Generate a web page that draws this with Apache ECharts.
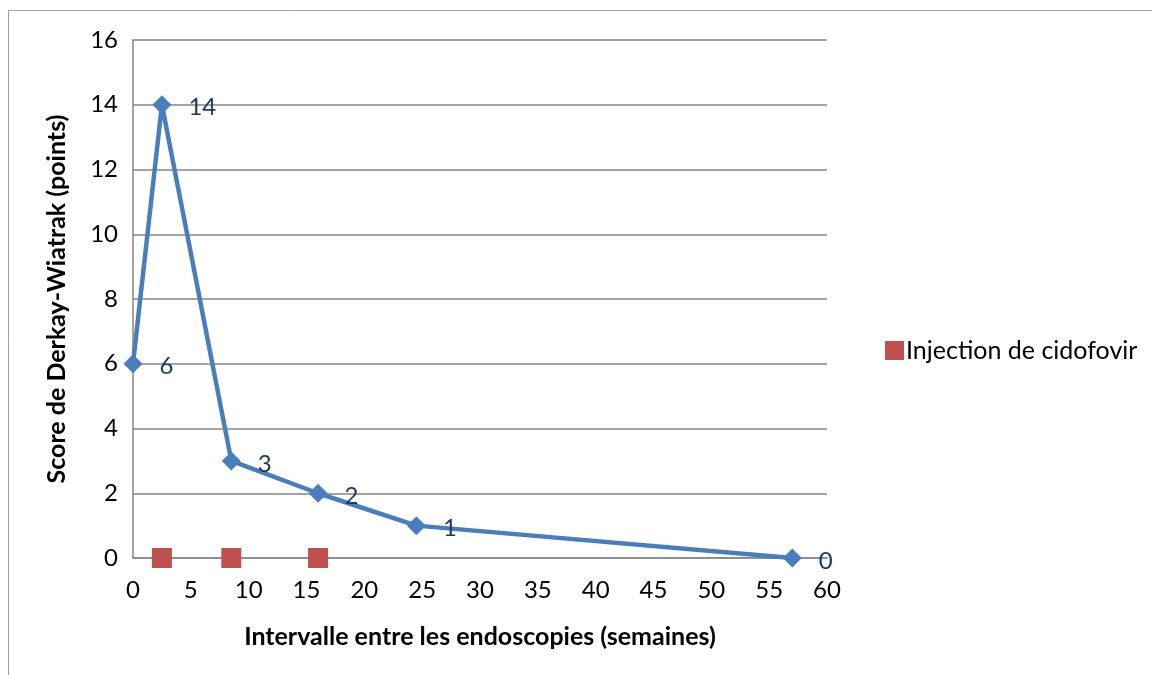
<!DOCTYPE html>
<html><head><meta charset="utf-8">
<script src="https://cdn.jsdelivr.net/npm/echarts@6/dist/echarts.min.js"></script>
<style>html,body{margin:0;padding:0;background:#fff}#c{width:1152px;height:675px}</style>
</head><body><div id="c"></div>
<script>
const scoreWeeks = [0, 2.5, 8.5, 16, 24.5, 57];
const scoreValues = [6, 14, 3, 2, 1, 0];
const injectionWeeks = [2.5, 8.5, 16];
const injectionValues = [0, 0, 0];
const injectionName = 'Injection de cidofovir';
const xTitle = 'Intervalle entre les endoscopies (semaines)';
const yTitle = 'Score de Derkay-Wiatrak (points)';

const FONT = 'Lato';
const chart = echarts.init(document.getElementById('c'), null, {renderer: 'canvas'});
chart.setOption({
  animation: false,
  textStyle: {fontFamily: FONT},
  graphic: [{type: 'rect', shape: {x: 8.5, y: 10.5, width: 1200, height: 700}, style: {fill: 'none', stroke: '#a0a0a0', lineWidth: 1}}],
  grid: {left: 133, right: 325, top: 40, bottom: 117},
  legend: {
    data: [injectionName], left: 880, top: 333, itemWidth: 19, itemHeight: 19, icon: 'rect', itemGap: 6,
    textStyle: {fontFamily: FONT, fontSize: 25, color: '#000', padding: [0,0,0,-3]}
  },
  xAxis: {
    type: 'value', min: 0, max: 60, interval: 5,
    name: xTitle, nameLocation: 'middle', nameGap: 66,
    nameTextStyle: {fontFamily: FONT, fontSize: 25, fontWeight: 'bold', color: '#000'},
    axisLine: {lineStyle: {color: '#868686', width: 1.5}},
    axisTick: {show: false},
    splitLine: {show: false},
    axisLabel: {fontFamily: FONT, fontSize: 24, color: '#000', margin: 20}
  },
  yAxis: {
    type: 'value', min: 0, max: 16, interval: 2,
    name: yTitle, nameLocation: 'middle', nameGap: 64,
    nameTextStyle: {fontFamily: FONT, fontSize: 25, fontWeight: 'bold', color: '#000'},
    axisLine: {show: true, lineStyle: {color: '#868686', width: 1.5}},
    axisTick: {show: false},
    splitLine: {lineStyle: {color: '#868686', width: 1.5}},
    axisLabel: {fontFamily: FONT, fontSize: 24, color: '#000', margin: 15}
  },
  series: [
    {
      name: 'Score', type: 'line',
      data: scoreWeeks.map((w, i) => [w, scoreValues[i]]),
      lineStyle: {color: '#4A7EBB', width: 4.5},
      itemStyle: {color: '#4A7EBB'},
      symbol: 'diamond', symbolSize: 19, showAllSymbol: true,
      label: {show: true, position: 'right', distance: 17, fontFamily: FONT, fontSize: 24, color: '#1F3A60', offset: [0, 3]},
      z: 3
    },
    {
      name: injectionName, type: 'scatter',
      data: injectionWeeks.map((w, i) => [w, injectionValues[i]]),
      symbol: 'rect', symbolSize: 20,
      itemStyle: {color: '#C0504D', opacity: 1},
      z: 4
    }
  ]
});
</script></body></html>
